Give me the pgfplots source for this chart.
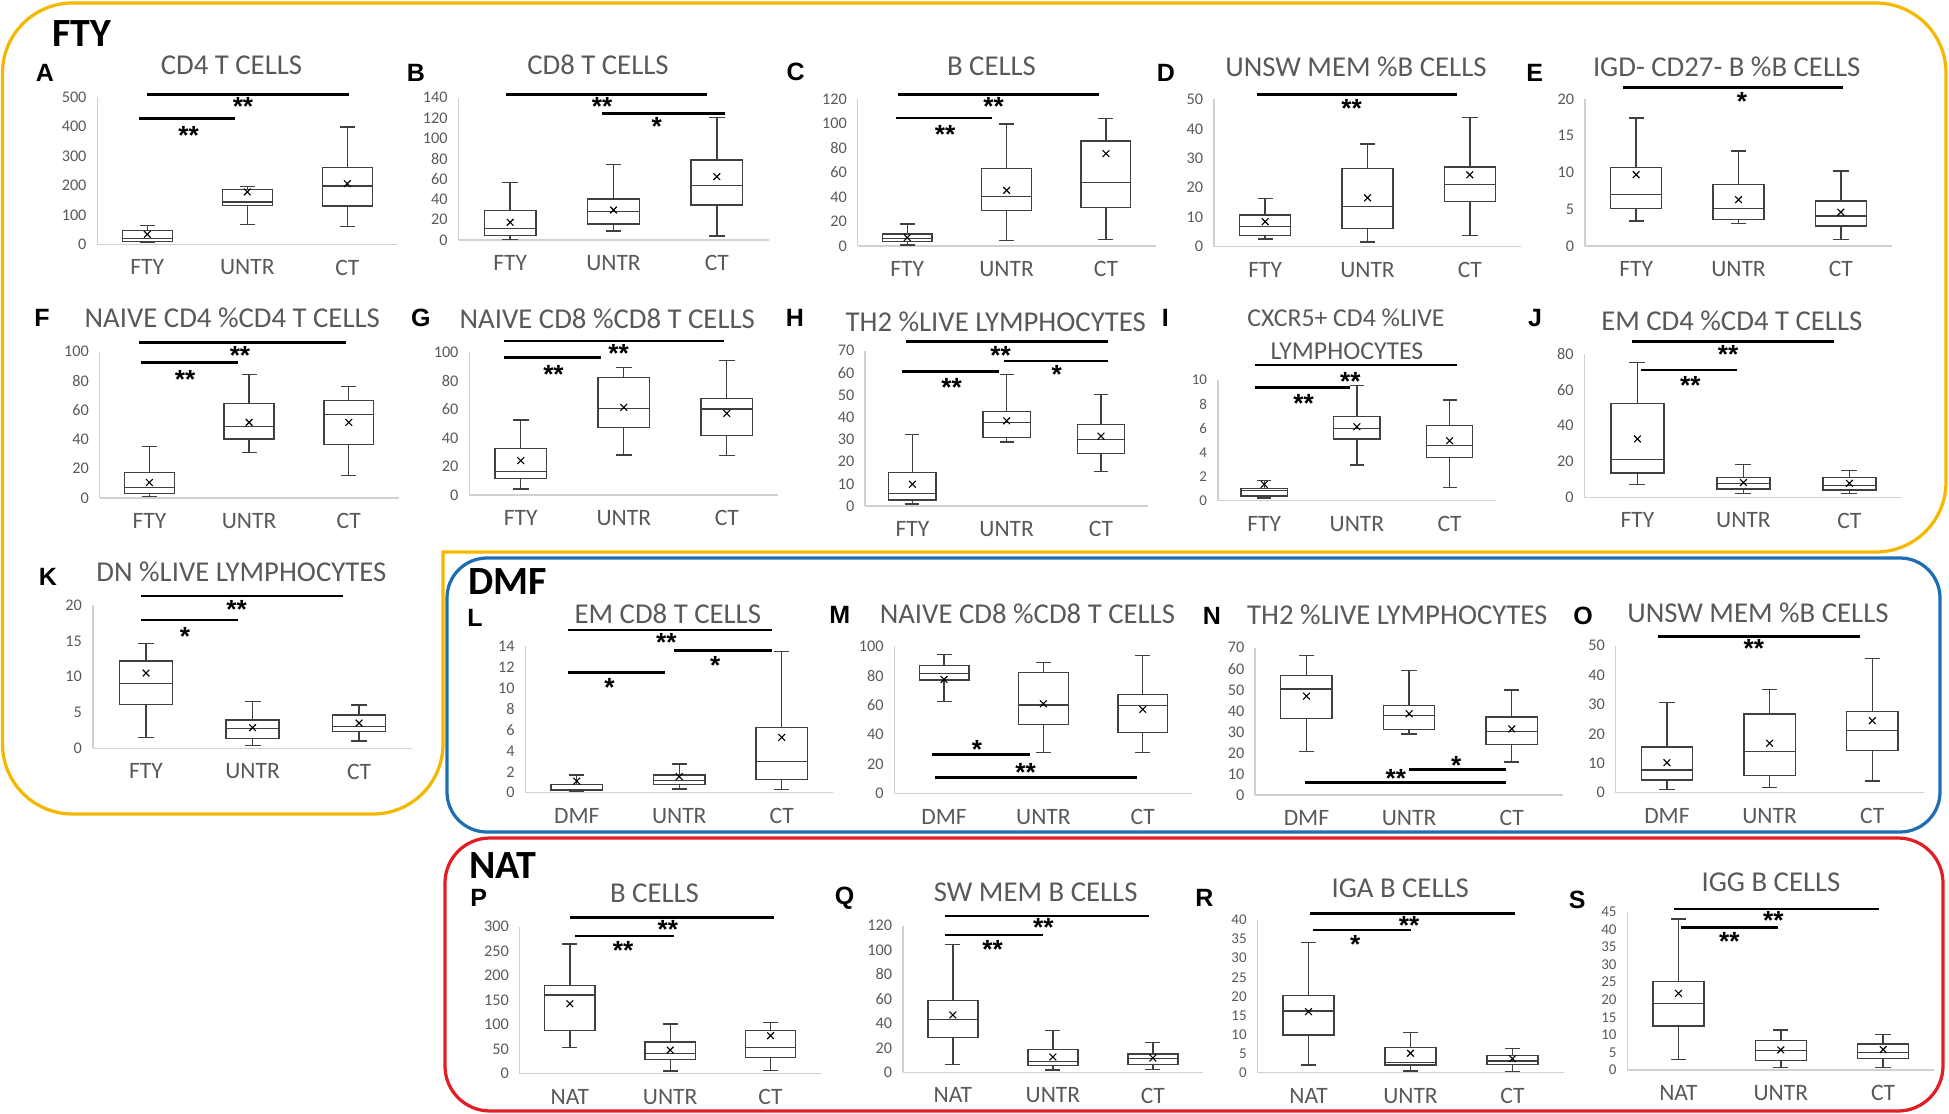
\documentclass[border=0pt]{standalone}
\usepackage{pgfplots}
\pgfplotsset{compat=1.18}
\usepgfplotslibrary{statistics}
\usepackage{fontspec}
\setmainfont{Carlito}
\newfontfamily\letfont{Liberation Sans}
\definecolor{tg}{HTML}{595959}
\definecolor{gold}{RGB}{244,184,0}
\definecolor{fblue}{RGB}{30,110,182}
\definecolor{fred}{RGB}{226,30,36}
\definecolor{boxc}{HTML}{404040}
\pgfplotsset{
  boxplot/draw direction=y,
  boxplot/box extend=0.5,
  boxplot/whisker extend=0.15,
  bxs/.style={draw=boxc, line width=0.55pt, fill=white},
  panel/.style n args={6}{
    at={(#1*0.4pt,-#2*0.4pt)}, anchor=south west, scale only axis,
    width=#3pt, height=#4pt,
    xmin=-0.5, xmax=2.5, ymin=0, ymax=#5, ytick={0,#6,...,#5}, xtick={0,1,2},
    axis x line*=bottom, axis y line*=left,
    axis line style={draw=black!18, line width=0.6pt},
    major tick length=0pt, clip=false,
    tick label style={text=tg},
    yticklabel style={font=\fontsize{6.5}{7}\selectfont, xshift=-0.8pt},
    xticklabel style={font=\fontsize{9.4}{10}\selectfont, yshift=-2.7pt},
    /pgf/number format/assume math mode=true,
    /pgf/number format/1000 sep={},
  },
  fty/.style={xticklabels={FTY,UNTR,CT}},
  dmf/.style={xticklabels={DMF,UNTR,CT}},
  nat/.style={xticklabels={NAT,UNTR,CT}},
  smallt/.style={yticklabel style={font=\fontsize{6}{7}\selectfont}},
}
\tikzset{
  ttl/.style={font=\fontsize{11.5}{12}\selectfont, text=tg, inner sep=0pt},
  lett/.style={font=\letfont\bfseries\fontsize{10}{12}\selectfont, inner sep=0pt},
  grp/.style={font=\bfseries\fontsize{16}{18}\selectfont, inner sep=0pt},
  stf/.style={font=\letfont\bfseries\fontsize{10.5}{12}\selectfont, inner sep=0pt, yshift=-2.1pt},
  sig/.style={line width=1.15pt},
}
\newcommand{\bx}[6]{\addplot[bxs, boxplot prepared={draw position=#1, lower whisker=#2, lower quartile=#3, median=#4, upper quartile=#5, upper whisker=#6}] coordinates {};}
\newcommand{\mn}[3]{\addplot[only marks, mark=x, mark size=1.9pt, mark options={draw=black, line width=0.45pt}] coordinates {(0,#1) (1,#2) (2,#3)};}
\newcommand{\sg}[3]{\draw[sig] (#1,#3) -- (#2,#3);}
\newcommand{\st}[3]{\node[stf] at (#1,#2) {#3};}
\begin{document}
\begin{tikzpicture}[x=0.4pt, y=-0.4pt]
\path (0,0) rectangle (1949,1113);
% frames
\draw[gold, line width=1.3pt, rounded corners=28pt, line cap=rect] (443,552) -- (1946,552) -- (1946,3) -- (2.5,3) -- (2.5,814) -- (443,814) -- (443,552);
\draw[fblue, line width=1.3pt, rounded corners=16pt] (447,558) rectangle (1940,832);
\draw[fred, line width=1.3pt, rounded corners=18pt] (445,838) rectangle (1943,1111);
\node[grp] at (82,33.3) {FTY};
\node[grp] at (507.9,582) {DMF};
\node[grp] at (503,865.5) {NAT};

% A
\begin{axis}[panel={97.3}{244.3}{120}{58.8}{500}{100}, fty]
\bx{0}{7}{10}{19}{46.5}{64.6}
\bx{1}{68}{131.5}{144}{186}{196}
\bx{2}{61}{130}{198}{261}{399}
\mn{34}{178}{206}
\end{axis}
% B
\begin{axis}[panel={458.5}{240}{124}{56.92}{140}{20}, fty]
\bx{0}{0.7}{4.3}{11.5}{28.9}{56.7}
\bx{1}{8.9}{15.7}{28.2}{40.3}{74.4}
\bx{2}{3.9}{34.4}{53.4}{78.7}{120.3}
\mn{17.4}{29.5}{62.3}
\end{axis}
% C
\begin{axis}[panel={857.6}{246}{119.2}{58.8}{120}{20}, fty]
\bx{0}{0.8}{3.8}{6.3}{9.8}{18}
\bx{1}{4.4}{28.8}{40.3}{63.4}{99.6}
\bx{2}{5.2}{31.6}{52}{85.7}{103.9}
\mn{6.8}{45.4}{75.4}
\end{axis}
% D
\begin{axis}[panel={1214}{246.7}{122.8}{58.92}{50}{10}, fty]
\bx{0}{2.6}{3.8}{6.9}{10.7}{16.3}
\bx{1}{1.6}{6.2}{13.7}{26.5}{34.8}
\bx{2}{3.7}{15.4}{21.1}{27}{43.8}
\mn{8.5}{16.6}{24.4}
\end{axis}
% E
\begin{axis}[panel={1585}{246}{122.8}{58.8}{20}{5}, fty]
\bx{0}{3.4}{5.1}{7.0}{10.7}{17.4}
\bx{1}{3.1}{3.6}{5.1}{8.4}{12.9}
\bx{2}{0.9}{2.7}{4.1}{6.1}{10.2}
\mn{9.7}{6.3}{4.6}
\end{axis}
% F
\begin{axis}[panel={99.6}{498}{119.6}{58.52}{100}{20}, fty]
\bx{0}{1.1}{3.2}{7.1}{17.3}{35.1}
\bx{1}{31}{40.3}{49}{64.5}{84.5}
\bx{2}{15.5}{36.7}{57.2}{66.5}{76.1}
\mn{10.6}{51.7}{51.7}
\end{axis}
% G
\begin{axis}[panel={469.3}{495}{123.6}{57.08}{100}{20}, fty]
\bx{0}{4.2}{11.4}{16.4}{32.7}{52.6}
\bx{1}{28}{47.2}{60.5}{82.5}{89.3}
\bx{2}{27.8}{41.6}{60.3}{67.5}{94.2}
\mn{24.1}{61.4}{57.2}
\end{axis}
% H
\begin{axis}[panel={865.2}{506}{113.2}{62.12}{70}{10}, fty]
\bx{0}{0.9}{2.7}{5.7}{15.2}{32.3}
\bx{1}{28.8}{30.9}{37.7}{42.5}{59.2}
\bx{2}{15.5}{23.7}{30}{36.8}{50.2}
\mn{9.8}{38.4}{31.5}
\end{axis}
% I
\begin{axis}[panel={1217.9}{500.7}{111.2}{48.28}{10}{2}, fty, smallt]
\bx{0}{0.22}{0.39}{0.83}{1.02}{1.66}
\bx{1}{2.96}{5.11}{5.99}{6.96}{9.53}
\bx{2}{1.08}{3.59}{4.59}{6.22}{8.34}
\mn{1.35}{6.13}{4.97}
\end{axis}
% J
\begin{axis}[panel={1584.4}{497.3}{127.2}{57.32}{80}{20}, fty]
\bx{0}{7.3}{13.6}{21.2}{52.3}{75.3}
\bx{1}{2.2}{4.7}{7.8}{11.2}{18.2}
\bx{2}{2.2}{4.1}{6.5}{11.2}{15.1}
\mn{32.6}{8.2}{7.8}
\end{axis}
% K
\begin{axis}[panel={92.8}{748.3}{127.8}{57.32}{20}{5}, fty]
\bx{0}{1.53}{6.14}{9.07}{12.2}{14.65}
\bx{1}{0.42}{1.4}{2.79}{3.95}{6.51}
\bx{2}{1.02}{2.33}{3.02}{4.65}{6.05}
\mn{10.5}{2.88}{3.53}
\end{axis}
% L
\begin{axis}[panel={525.5}{792.7}{123}{58.68}{14}{2}, dmf]
\bx{0}{0.1}{0.19}{0.32}{0.80}{1.69}
\bx{1}{0.35}{0.80}{1.15}{1.69}{2.74}
\bx{2}{0.32}{1.27}{2.99}{6.2}{13.5}
\mn{1.11}{1.53}{5.28}
\end{axis}
% M
\begin{axis}[panel={894.4}{793.7}{119.2}{59.08}{100}{20}, dmf]
\bx{0}{62.3}{77}{81.3}{86.9}{94.4}
\bx{1}{28}{47}{60}{81.9}{88.7}
\bx{2}{27.8}{41.5}{59.6}{67.3}{93.5}
\mn{77.4}{60.9}{57.1}
\end{axis}
% N
\begin{axis}[panel={1255.1}{795}{123.2}{58.92}{70}{10}, dmf]
\bx{0}{20.7}{36.3}{50.4}{56.7}{66.2}
\bx{1}{29}{31}{37.9}{42.4}{59.2}
\bx{2}{15.7}{24.1}{30.1}{37.1}{49.9}
\mn{47}{38.6}{31.4}
\end{axis}
% O
\begin{axis}[panel={1615.6}{792.7}{123.2}{58.8}{50}{10}, dmf]
\bx{0}{1.1}{4.3}{7.7}{15.6}{30.6}
\bx{1}{1.7}{5.9}{14.1}{26.8}{35}
\bx{2}{4}{14.3}{21.2}{27.6}{45.6}
\mn{10.2}{16.8}{24.5}
\end{axis}
% P
\begin{axis}[panel={519.7}{1073.7}{120.4}{58.8}{300}{50}, nat]
\bx{0}{53.7}{87.8}{160.5}{180.3}{264.6}
\bx{1}{5.4}{29.3}{41.5}{64.6}{101.4}
\bx{2}{6.1}{32.7}{53.7}{87.8}{104.8}
\mn{142.9}{48.3}{77.6}
\end{axis}
% Q
\begin{axis}[panel={902.9}{1072.3}{120}{58.68}{120}{20}, nat]
\bx{0}{6.5}{28.4}{43.1}{58.9}{104.7}
\bx{1}{1.9}{5.5}{9}{18.8}{34.1}
\bx{2}{2.2}{6.5}{11.5}{15}{24.5}
\mn{46.9}{12.5}{11.7}
\end{axis}
% R
\begin{axis}[panel={1257.5}{1072.7}{122.4}{61.08}{40}{5}, nat, smallt]
\bx{0}{2.0}{9.9}{16.2}{20.3}{34.1}
\bx{1}{0.4}{2.0}{2.7}{6.6}{10.5}
\bx{2}{0.3}{2.2}{3.1}{4.5}{6.4}
\mn{16}{5.1}{3.7}
\end{axis}
% S
\begin{axis}[panel={1627.3}{1070}{122.8}{63.32}{45}{5}, nat, smallt]
\bx{0}{3.0}{12.5}{18.9}{25.1}{42.9}
\bx{1}{0.8}{2.7}{5.5}{8.4}{11.4}
\bx{2}{0.7}{3.3}{5.0}{7.4}{10.1}
\mn{21.8}{5.7}{5.8}
\end{axis}

% titles
\node[ttl] at (231.5,65) {CD4 T CELLS};
\node[ttl] at (598,65) {CD8 T CELLS};
\node[ttl] at (991.5,66.7) {B CELLS};
\node[ttl] at (1356,66.7) {UNSW MEM \%B CELLS};
\node[ttl] at (1726.7,66.7) {IGD- CD27- B \%B CELLS};
\node[ttl] at (232.3,318.3) {NAIVE CD4 \%CD4 T CELLS};
\node[ttl] at (607.3,318.3) {NAIVE CD8 \%CD8 T CELLS};
\node[ttl] at (995.7,321.7) {TH2 \%LIVE LYMPHOCYTES};
\node[ttl, font=\fontsize{10.3}{12}\selectfont] at (1346,318.3) {CXCR5+ CD4 \%LIVE};
\node[ttl, font=\fontsize{10.3}{12}\selectfont] at (1347,351.7) {LYMPHOCYTES};
\node[ttl] at (1731.8,320.7) {EM CD4 \%CD4 T CELLS};
\node[ttl] at (241.4,571.7) {DN \%LIVE LYMPHOCYTES};
\node[ttl] at (667.8,613.3) {EM CD8 T CELLS};
\node[ttl] at (1027.4,613.3) {NAIVE CD8 \%CD8 T CELLS};
\node[ttl] at (1397.3,615) {TH2 \%LIVE LYMPHOCYTES};
\node[ttl] at (1758,613.3) {UNSW MEM \%B CELLS};
\node[ttl] at (654.5,893.3) {B CELLS};
\node[ttl] at (1035.7,892.7) {SW MEM B CELLS};
\node[ttl] at (1400.2,888.3) {IGA B CELLS};
\node[ttl] at (1771,882.7) {IGG B CELLS};
% letters
\node[lett] at (45,73.3) {A};
\node[lett] at (415.8,73.3) {B};
\node[lett] at (795.7,71.7) {C};
\node[lett] at (1166,72.7) {D};
\node[lett] at (1534.7,73.3) {E};
\node[lett] at (42.1,318.3) {F};
\node[lett] at (420.9,318.3) {G};
\node[lett] at (794.9,318.3) {H};
\node[lett] at (1165.3,318.3) {I};
\node[lett] at (1535.1,318.3) {J};
\node[lett] at (47.8,576.7) {K};
\node[lett] at (474.9,617.5) {L};
\node[lett] at (839.9,615) {M};
\node[lett] at (1211.9,616) {N};
\node[lett] at (1583.1,616) {O};
\node[lett] at (478.8,898) {P};
\node[lett] at (844.7,898.3) {Q};
\node[lett] at (1204.5,898.3) {R};
\node[lett] at (1577.3,900) {S};
% significance
\sg{147.3}{348.5}{94.7}\st{243}{101.7}{**}
\sg{139}{235}{118.7}\st{188.6}{130}{**}
\sg{506}{707}{94.7}\st{602}{101.7}{**}
\sg{602}{725.4}{113.7}\st{656.8}{121.7}{*}
\sg{897.6}{1098.8}{94.7}\st{993.5}{101.7}{**}
\sg{896}{991.9}{118}\st{945}{129.3}{**}
\sg{1256.6}{1457}{94.7}\st{1351.7}{103.3}{**}
\sg{1622.6}{1843.2}{87.3}\st{1742}{96}{*}
\sg{138.9}{346}{342.7}\st{240}{350}{**}
\sg{141.4}{237.8}{362.7}\st{185.2}{374}{**}
\sg{503.8}{724.2}{341}\st{618.7}{348.3}{**}
\sg{503.8}{601}{357.3}\st{553.5}{369}{**}
\sg{906}{1108}{341.7}\st{1000.7}{350}{**}
\sg{1004}{1108}{361}\st{1056.7}{369}{*}
\sg{901.8}{998.6}{371.3}\st{951.5}{382.7}{**}
\sg{1255.4}{1457}{365}\st{1350.4}{376}{**}
\sg{1254.5}{1350.4}{387.3}\st{1303.5}{398.3}{**}
\sg{1632}{1833.8}{341.7}\st{1728}{349.3}{**}
\sg{1641.4}{1737.4}{370}\st{1690.4}{380.7}{**}
\sg{140.8}{342.9}{596}\st{236.7}{604}{**}
\sg{140.8}{237.6}{620}\st{184.9}{631.7}{*}
\sg{567.5}{772}{630}\st{666.3}{637.3}{**}
\sg{673.6}{772}{650.3}\st{715.3}{660}{*}
\sg{567.5}{665.4}{672.7}\st{609.6}{682}{*}
\sg{932}{1029.9}{754.3}\st{977}{744.3}{*}
\sg{935.3}{1136.5}{777.3}\st{1025.5}{767.3}{**}
\sg{1409}{1506.1}{769.7}\st{1456.1}{760}{*}
\sg{1305}{1506.1}{782.3}\st{1395.8}{773.3}{**}
\sg{1658.2}{1860.2}{636.3}\st{1753.8}{643.3}{**}
\sg{569.9}{774.4}{917.3}\st{667.8}{924}{**}
\sg{574.7}{673.6}{936}\st{623.2}{945}{**}
\sg{945}{1149}{916}\st{1043.4}{922.7}{**}
\sg{945}{1042.5}{935}\st{992.5}{944.3}{**}
\sg{1310}{1515}{913.3}\st{1409}{920}{**}
\sg{1313.4}{1410.5}{930}\st{1355.1}{939.3}{*}
\sg{1674.4}{1878.9}{909}\st{1773.4}{915.7}{**}
\sg{1681.2}{1778.3}{927.3}\st{1729.3}{936}{**}
\end{tikzpicture}
\end{document}
